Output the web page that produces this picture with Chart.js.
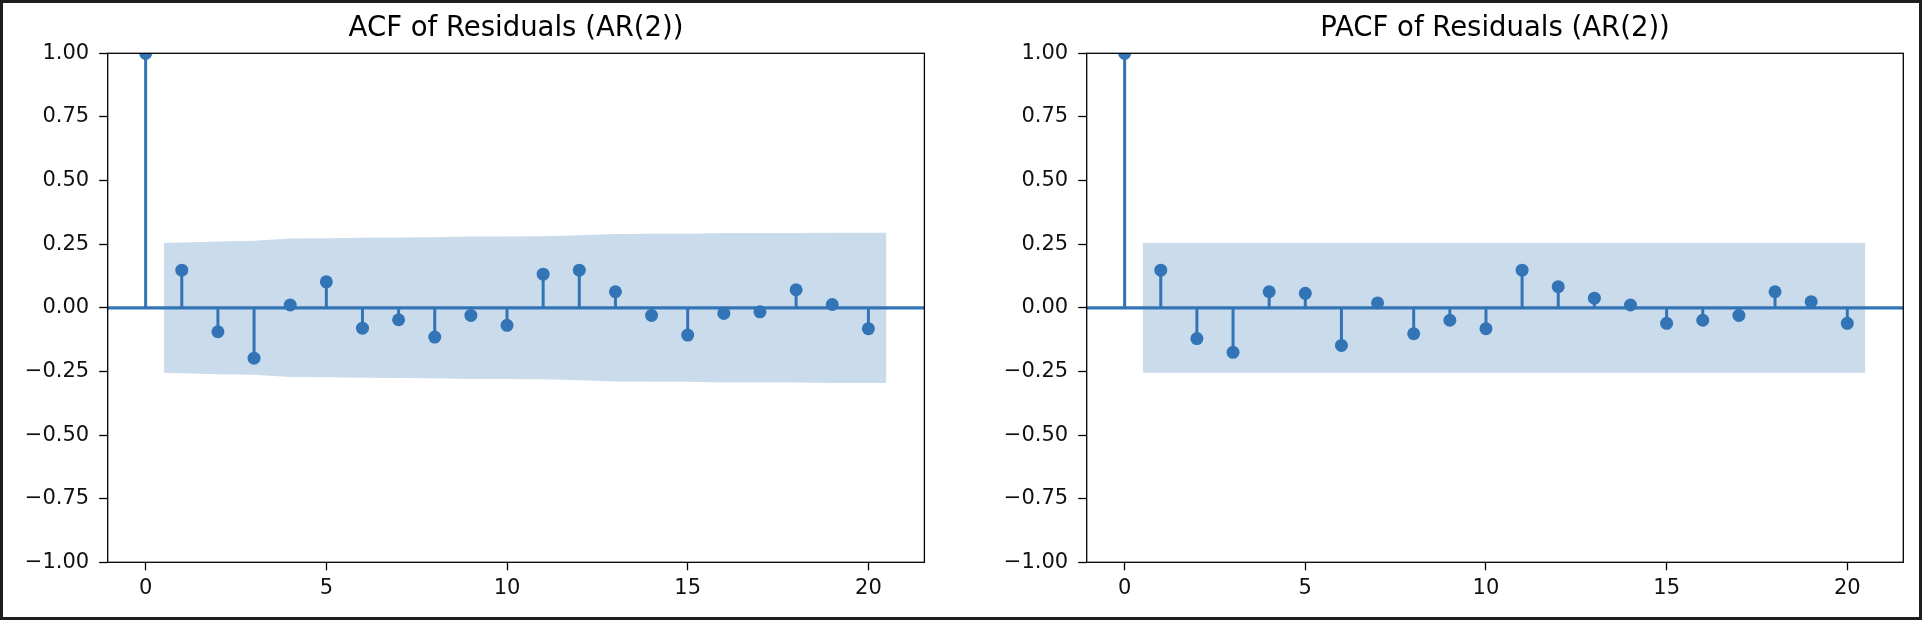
<!DOCTYPE html>
<html>
<head>
<meta charset="utf-8">
<script src="https://cdn.jsdelivr.net/npm/chart.js@4.4.1/dist/chart.umd.min.js"></script>
<style>
  html, body { margin: 0; padding: 0; background: #1e1e1e; overflow: hidden; }
  #marco { position: absolute; left: 3px; top: 3px; width: 1916px; height: 614px; background: #fff; }
  .panel { position: absolute; top: 0; width: 961px; height: 620px; }
</style>
</head>
<body>
<div id="marco"></div>
<div class="panel" style="left:0"><canvas id="acf"></canvas></div>
<div class="panel" style="left:961px"><canvas id="pacf"></canvas></div>
<script>
// Datos
const lags = [0, 1, 2, 3, 4, 5, 6, 7, 8, 9, 10, 11, 12, 13, 14, 15, 16, 17, 18, 19, 20];
const acfValues = [1.00, 0.148, -0.094, -0.198, 0.011, 0.102, -0.080, -0.047, -0.115, -0.030, -0.069,
  0.132, 0.148, 0.063, -0.030, -0.107, -0.022, -0.016, 0.071, 0.013, -0.082];
const pacfValues = [1.00, 0.148, -0.121, -0.175, 0.063, 0.057, -0.148, 0.019, -0.102, -0.049, -0.082,
  0.148, 0.083, 0.038, 0.011, -0.061, -0.049, -0.030, 0.063, 0.024, -0.061];

// Banda de confianza (x = desfase, límites superior e inferior)
const acfBandX = [0.5, 2, 3, 4, 5, 6, 7, 8, 9, 10, 11, 12, 13, 14, 15, 16, 17, 18, 19, 20.5];
const acfBandUpper = [0.255, 0.261, 0.263, 0.272, 0.273, 0.275, 0.276, 0.277, 0.280, 0.280,
  0.281, 0.285, 0.290, 0.291, 0.291, 0.294, 0.294, 0.294, 0.295, 0.295];
const acfBandLower = [-0.255, -0.261, -0.263, -0.272, -0.273, -0.275, -0.276, -0.277, -0.280, -0.280,
  -0.281, -0.285, -0.290, -0.291, -0.291, -0.294, -0.294, -0.294, -0.295, -0.295];
const pacfBandX = [0.5, 20.5];
const pacfBandUpper = [0.255, 0.255];
const pacfBandLower = [-0.255, -0.255];

const xTicks = [0, 5, 10, 15, 20];
const yTicks = [-1, -0.75, -0.5, -0.25, 0, 0.25, 0.5, 0.75, 1];
const xMin = -1.05;
const xMax = 21.55;

const azul = '#3274b5';
const banda = 'rgba(50, 116, 181, 0.26)';
const fuente = 'DejaVu Sans';

// Marco negro alrededor del área del gráfico
const marcoEjes = {
  id: 'marcoEjes',
  afterDraw(chart) {
    const { ctx, chartArea: a } = chart;
    ctx.save();
    ctx.strokeStyle = '#000';
    ctx.lineWidth = 1.3;
    ctx.strokeRect(a.left, a.top, a.right - a.left, a.bottom - a.top);
    ctx.restore();
  }
};

// El título va como título de un eje superior vacío, así queda centrado sobre el área del gráfico
function crearGrafico(id, titulo, valores, bandX, bandUp, bandLow, padLeft, padRight) {
  const stems = lags.flatMap((x, i) => [{ x, y: 0 }, { x, y: valores[i] }, { x, y: null }]);
  return new Chart(document.getElementById(id), {
    type: 'scatter',
    data: {
      datasets: [
        {
          type: 'scatter',
          data: lags.map((x, i) => ({ x, y: valores[i] })),
          backgroundColor: azul,
          borderWidth: 0,
          pointRadius: 6.5,
          clip: 0,
          order: 0
        },
        {
          type: 'line',
          data: stems,
          borderColor: azul,
          borderWidth: 3,
          borderCapStyle: 'butt',
          pointRadius: 0,
          spanGaps: false,
          fill: false,
          clip: 0,
          order: 1
        },
        {
          type: 'line',
          data: [{ x: xMin, y: 0 }, { x: xMax, y: 0 }],
          borderColor: azul,
          borderWidth: 3.2,
          pointRadius: 0,
          fill: false,
          clip: 0,
          order: 2
        },
        {
          type: 'line',
          data: bandX.map((x, i) => ({ x, y: bandUp[i] })),
          borderWidth: 0,
          pointRadius: 0,
          backgroundColor: banda,
          fill: '+1',
          tension: 0,
          order: 3
        },
        {
          type: 'line',
          data: bandX.map((x, i) => ({ x, y: bandLow[i] })),
          borderWidth: 0,
          pointRadius: 0,
          fill: false,
          tension: 0,
          order: 4
        }
      ]
    },
    options: {
      responsive: true,
      maintainAspectRatio: false,
      animation: false,
      layout: { padding: { left: padLeft, right: padRight, top: 12.8, bottom: 17.7 } },
      plugins: {
        legend: { display: false },
        tooltip: { enabled: false }
      },
      scales: {
        x: {
          type: 'linear',
          min: xMin,
          max: xMax,
          offset: false,
          border: { display: false },
          grid: { drawOnChartArea: false, drawTicks: true, tickLength: 8, tickWidth: 1.3, tickColor: '#000', offset: false },
          ticks: { color: '#111', font: { family: fuente, size: 21 }, padding: 6, maxRotation: 0 },
          afterBuildTicks: s => { s.ticks = xTicks.map(v => ({ value: v })); },
          afterFit: s => { s.height = 40; }
        },
        xTitulo: {
          type: 'linear',
          position: 'top',
          min: 0,
          max: 1,
          border: { display: false },
          grid: { display: false },
          ticks: { display: false },
          title: {
            display: true,
            text: titulo,
            color: '#000',
            font: { family: fuente, size: 27.5, weight: 'normal' },
            padding: { top: 0, bottom: 7.5 }
          },
          afterFit: s => { s.height = 40.5; }
        },
        y: {
          min: -1,
          max: 1,
          border: { display: false },
          grid: { drawOnChartArea: false, drawTicks: true, tickLength: 8.5, tickWidth: 1.3, tickColor: '#000' },
          ticks: {
            color: '#111',
            font: { family: fuente, size: 21 },
            padding: 10,
            callback: v => (v < 0 ? '\u2212' : '') + Math.abs(v).toFixed(2)
          },
          afterBuildTicks: s => { s.ticks = yTicks.map(v => ({ value: v })); },
          afterFit: s => { s.width = 100; }
        }
      }
    },
    plugins: [marcoEjes]
  });
}

crearGrafico('acf', 'ACF of Residuals (AR(2))', acfValues, acfBandX, acfBandUpper, acfBandLower, 7.7, 36.6);
crearGrafico('pacf', 'PACF of Residuals (AR(2))', pacfValues, pacfBandX, pacfBandUpper, pacfBandLower, 25.7, 18.7);
</script>
</body>
</html>
